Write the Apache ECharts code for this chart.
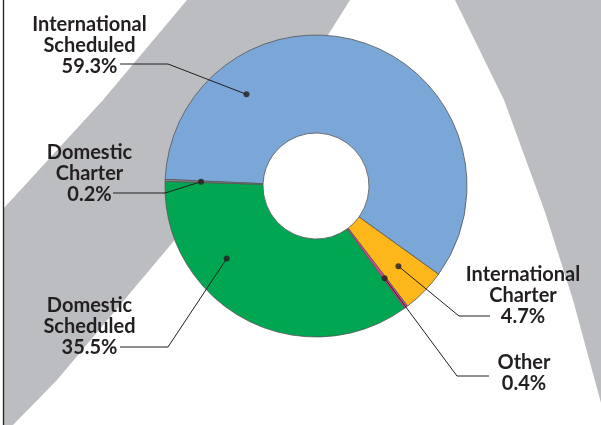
<!DOCTYPE html>
<html><head><meta charset="utf-8">
<script src="https://cdn.jsdelivr.net/npm/echarts@6/dist/echarts.min.js"></script>
<style>html,body{margin:0;padding:0;background:#fff}#c{width:601px;height:425px}</style>
</head><body><div id="c"></div>
<script>
// ---- data ----
const categories = ['International\nScheduled', 'International\nCharter', 'Other', 'Domestic\nScheduled', 'Domestic\nCharter'];
const shares = [59.3, 4.7, 0.4, 35.5, 0.2];

// ---- style / layout ----
const sliceColors = ['#7BA6D8', '#FDB71A', '#DA4590', '#00A651', '#8E8E8E'];
const CX = 316, CY = 186, R_IN = 53, R_OUT = 151, START = 177.5, DOT_R = 115;
const anchorFrac = [0.236, 0.5, 0.5, 0.68, 0.5];
const labelPos = [[89.5, 46], [523, 296], [524, 373.5], [89.5, 327], [89.5, 174]];
const leaderBend = [[168, 64], [459, 316], [457, 376], [168, 347], [165, 193]];
const leaderEnd = [[120, 64], [490, 316], [489, 376], [120, 347], [113, 193]];
const INK = '#231f20', BG_GRAY = '#BCBDC0';

const total = shares.reduce((a, b) => a + b, 0);
const anchorVal = [];
let cum = 0;
shares.forEach((v, i) => { anchorVal.push(cum + anchorFrac[i] * v); cum += v; });

const chart = echarts.init(document.getElementById('c'), null, {renderer: 'canvas'});
const background = [
  {type: 'polygon', z: -10, shape: {points: [[187,0],[350,0],[328,35],[290,90],[250,145],[210,196],[173,242],[57,380],[13,425],[4,425],[4,208],[103,100]]}, style: {fill: BG_GRAY}},
  {type: 'polygon', z: -10, shape: {points: [[455,0],[601,0],[601,403],[573,300],[545,212],[504,100]]}, style: {fill: BG_GRAY}},
  {type: 'line', z: -5, shape: {x1: 3.5, y1: 0, x2: 3.5, y2: 425}, style: {stroke: INK, lineWidth: 1.3}}
];
chart.setOption({
  animation: false,
  backgroundColor: '#ffffff',
  graphic: background,
  polar: {center: [CX, CY], radius: R_OUT},
  angleAxis: {type: 'value', min: 0, max: total, startAngle: START, clockwise: true, show: false},
  radiusAxis: {type: 'value', min: 0, max: R_OUT, show: false},
  series: [
    {
      type: 'pie',
      center: [CX, CY],
      radius: [R_IN, R_OUT],
      startAngle: START,
      clockwise: true,
      avoidLabelOverlap: false,
      silent: true,
      data: categories.map((c, i) => ({name: c, value: shares[i], itemStyle: {color: sliceColors[i]}})),
      itemStyle: {borderColor: '#555555', borderWidth: 0.8},
      label: {
        show: true,
        position: 'outside',
        formatter: p => p.name + '\n' + shares[p.dataIndex].toFixed(1) + '%',
        fontFamily: 'Lato',
        fontWeight: 'bold',
        fontSize: 20,
        lineHeight: 21,
        color: INK
      },
      labelLine: {show: false},
      labelLayout: function (p) {
        const i = p.dataIndex;
        return {x: labelPos[i][0], y: labelPos[i][1], align: 'center', verticalAlign: 'middle'};
      }
    },
    {
      type: 'scatter',
      coordinateSystem: 'polar',
      z: 5,
      silent: true,
      symbol: 'circle',
      symbolSize: 6,
      itemStyle: {color: INK},
      data: categories.map((c, i) => [DOT_R, anchorVal[i]])
    }
  ]
});
// leader lines from each data anchor (converted through the polar scales) to its label
const leaders = anchorVal.map((a, i) => {
  const dot = chart.convertToPixel({seriesIndex: 1}, [DOT_R, a]);
  return {type: 'polyline', z: 20, silent: true,
    shape: {points: [dot, leaderBend[i], leaderEnd[i]]},
    style: {stroke: INK, lineWidth: 1, fill: null}};
});
chart.setOption({graphic: background.concat(leaders)});
</script></body></html>
